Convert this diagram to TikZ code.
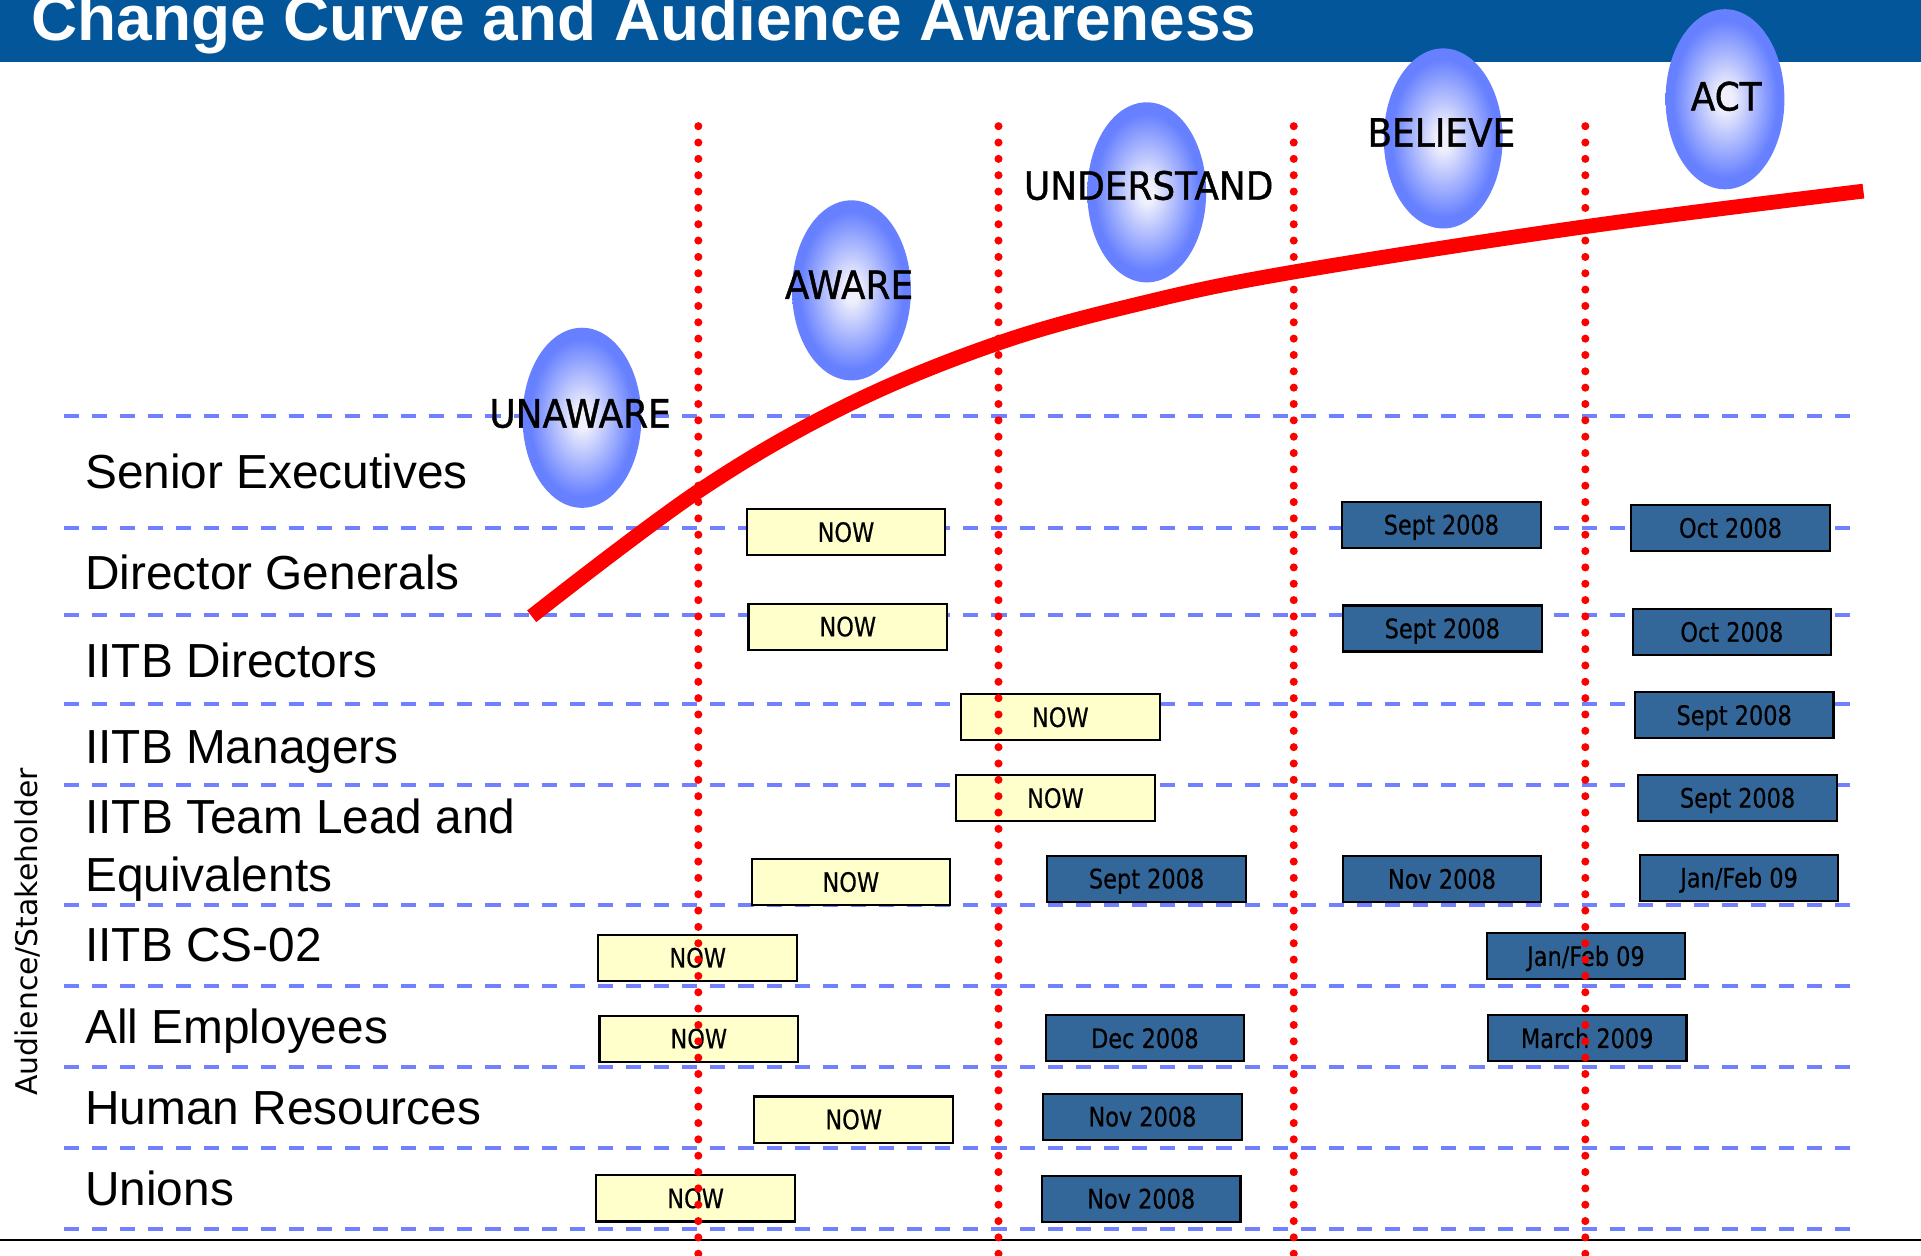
\documentclass[tikz,border=0pt]{standalone}
\usepackage{fontspec}
\setmainfont{Liberation Sans}
\newfontfamily\stagefont[FakeStretch=0.92,FakeBold=1]{DejaVu Sans}
\newfontfamily\boxfont[FakeStretch=0.84,FakeBold=0.5]{DejaVu Sans}
\newfontfamily\axisfont{DejaVu Sans}

\definecolor{titleblue}{RGB}{2,86,153}
\definecolor{gridblue}{RGB}{112,128,255}
\definecolor{datefill}{RGB}{51,102,153}
\definecolor{nowfill}{RGB}{255,255,204}
\definecolor{orbedge}{RGB}{102,128,255}
\definecolor{orbcore}{RGB}{240,240,252}

\pgfdeclareradialshading{orbshade}{\pgfpoint{0bp}{0bp}}{color(0bp)=(orbcore); color(3bp)=(orbcore); color(22bp)=(orbedge); color(50bp)=(orbedge)}

\tikzset{
  titletext/.style={anchor=base west, inner sep=0pt, text=white, font=\bfseries\fontsize{18.2}{22}\selectfont},
  rowlabel/.style={anchor=base west, inner sep=0pt, font=\fontsize{13.6}{16}\selectfont},
  axislabel/.style={anchor=base, rotate=90, inner sep=0pt, font=\axisfont\fontsize{8.5}{10}\selectfont},
  stagetext/.style={anchor=base, inner sep=0pt, font=\stagefont\fontsize{11.1}{13}\selectfont},
  orb/.style={shading=orbshade},
  nowbox/.style={draw=black, line width=0.6pt, fill=nowfill, minimum width=56.5pt, minimum height=13.1pt, inner sep=0pt, text height=5.5pt, text depth=0pt, font=\boxfont\fontsize{7.6}{9}\selectfont},
  datebox/.style={nowbox, fill=datefill},
  gridline/.style={gridblue, line width=1.15pt, dash pattern=on 4.3pt off 3.7pt},
  phaseline/.style={red, line width=2.3pt, line cap=round, dash pattern=on 0pt off 4.65pt},
  changecurve/.style={red, line width=4.2pt}
}

\begin{document}
\begin{tikzpicture}[x=0.0122513cm, y=-0.0122513cm]
\useasboundingbox (0,0) rectangle (1568,1025);

% title bar
\fill[titleblue] (0,0) rectangle (1568,50.5);
\node[titletext] (title) at (25,32.7) {Change Curve and Audience Awareness};

% rows
\draw[gridline] (52,339.6) -- (1520,339.6);
\draw[gridline] (52,431.3) -- (1520,431.3);
\draw[gridline] (52,502) -- (1520,502);
\draw[gridline] (52,574.7) -- (1520,574.7);
\draw[gridline] (52,640.8) -- (1520,640.8);
\draw[gridline] (52,738.7) -- (1520,738.7);
\draw[gridline] (52,804.9) -- (1520,804.9);
\draw[gridline] (52,870.7) -- (1520,870.7);
\draw[gridline] (52,936.8) -- (1520,936.8);
\draw[gridline] (52,1003.2) -- (1520,1003.2);
\draw[line width=0.5pt] (0,1012.2) -- (1568,1012.2);

% stages
\shade[orb] (475,341) ellipse [x radius=48.5, y radius=73.5];
\shade[orb] (695,237) ellipse [x radius=48.5, y radius=73.5];
\shade[orb] (936,157) ellipse [x radius=48.5, y radius=73.5];
\shade[orb] (1178,113) ellipse [x radius=48.5, y radius=73.5];
\shade[orb] (1408,81) ellipse [x radius=48.5, y radius=73.5];

\node[stagetext] (unaware) at (473.5,349) {UNAWARE};
\node[stagetext] (aware) at (693,244) {AWARE};
\node[stagetext] (understand) at (937.6,163) {UNDERSTAND};
\node[stagetext] (believe) at (1176.5,119.7) {BELIEVE};
\node[stagetext] (act) at (1409,90.2) {ACT};

% change curve
\draw[changecurve] plot[smooth, tension=0.6] coordinates {(434,503) (570,401) (691,331) (815,280) (934,247) (1056,222) (1294,185) (1521,156)};

% audience
\node[rowlabel] (senior) at (69,399) {Senior Executives};
\node[rowlabel] (dg) at (69,481) {Director Generals};
\node[rowlabel] (directors) at (69,553) {IITB Directors};
\node[rowlabel] (managers) at (69,623) {IITB Managers};
\node[rowlabel] (teamlead) at (69,680) {IITB Team Lead and};
\node[rowlabel] (equiv) at (69,728) {Equivalents};
\node[rowlabel] (cs) at (69,785) {IITB CS-02};
\node[rowlabel] (employees) at (69,851.5) {All Employees};
\node[rowlabel] (hr) at (69,917.5) {Human Resources};
\node[rowlabel] (unions) at (69,983.6) {Unions};
\node[axislabel] (audience) at (31,760.8) {Audience/Stakeholder};

% timing
\node[nowbox] (now-se) at (690.5,434.4) {NOW};
\node[datebox] (sept-se) at (1176.5,428.3) {Sept 2008};
\node[datebox] (oct-se) at (1412.5,431) {Oct 2008};
\node[nowbox] (now-dg) at (692,511.5) {NOW};
\node[datebox] (sept-dg) at (1177.3,513) {Sept 2008};
\node[datebox] (oct-dg) at (1413.6,515.9) {Oct 2008};
\node[nowbox] (now-dir) at (865.5,585.5) {NOW};
\node[datebox] (sept-dir) at (1415.5,583.8) {Sept 2008};
\node[nowbox] (now-mgr) at (861.5,651.5) {NOW};
\node[datebox] (sept-mgr) at (1418.3,651.3) {Sept 2008};
\node[nowbox] (now-tl) at (694.5,720) {NOW};
\node[datebox] (sept-tl) at (935.9,717.2) {Sept 2008};
\node[datebox] (nov-tl) at (1177,717.5) {Nov 2008};
\node[datebox] (jan-tl) at (1419.5,716.5) {Jan/Feb 09};
\node[nowbox] (now-cs) at (569.5,781.8) {NOW};
\node[datebox] (jan-cs) at (1294.5,780.5) {Jan/Feb 09};
\node[nowbox] (now-all) at (570.4,847.8) {NOW};
\node[datebox] (dec-all) at (934.5,847.5) {Dec 2008};
\node[datebox] (mar-all) at (1295.5,847.5) {March 2009};
\node[nowbox] (now-hr) at (696.8,913.8) {NOW};
\node[datebox] (nov-hr) at (932.5,911.5) {Nov 2008};
\node[nowbox] (now-un) at (567.8,978.2) {NOW};
\node[datebox] (nov-un) at (931.5,978.5) {Nov 2008};

% phase borders
\draw[phaseline] (570,103) -- (570,1030);
\draw[phaseline] (815,103) -- (815,1030);
\draw[phaseline] (1056,103) -- (1056,1030);
\draw[phaseline] (1294,103) -- (1294,1030);
\end{tikzpicture}
\end{document}
